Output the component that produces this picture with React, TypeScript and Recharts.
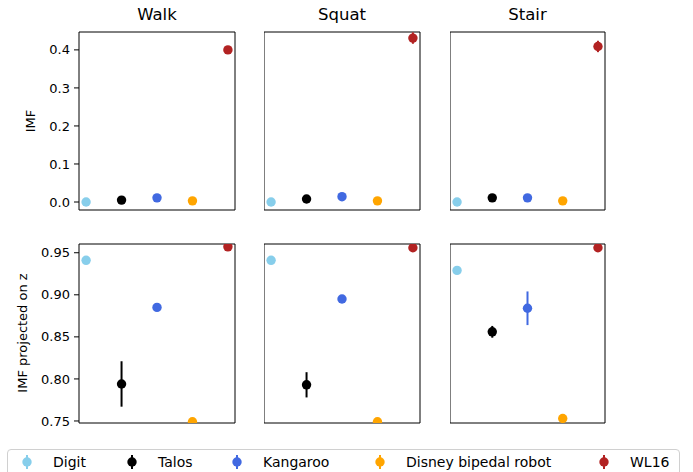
import { ScatterChart, Scatter, XAxis, YAxis, ErrorBar, ReferenceArea } from "recharts";

const robots = ["Digit", "Talos", "Kangaroo", "Disney bipedal robot", "WL16"];
const colors = ["#87CEEB", "#000000", "#4169E1", "#FFA500", "#B22222"];
const activities = ["Walk", "Squat", "Stair"];

// IMF (top row)
const imfWalk = [0.0, 0.005, 0.011, 0.003, 0.4];
const imfWalkErr = [0.001, 0.002, 0.002, 0.001, 0.004];
const imfSquat = [0.0, 0.008, 0.014, 0.003, 0.431];
const imfSquatErr = [0.001, 0.002, 0.002, 0.001, 0.015];
const imfStair = [0.0, 0.011, 0.011, 0.003, 0.409];
const imfStairErr = [0.001, 0.002, 0.002, 0.001, 0.015];

// IMF projected on z (bottom row)
const imfzWalk = [0.941, 0.794, 0.885, 0.749, 0.957];
const imfzWalkErr = [0.001, 0.027, 0.002, 0.001, 0.002];
const imfzSquat = [0.941, 0.793, 0.895, 0.749, 0.956];
const imfzSquatErr = [0.001, 0.015, 0.003, 0.001, 0.002];
const imfzStair = [0.929, 0.856, 0.884, 0.753, 0.956];
const imfzStairErr = [0.001, 0.007, 0.02, 0.001, 0.002];

const imfTicks = [0, 0.1, 0.2, 0.3, 0.4];
const imfzTicks = [0.75, 0.8, 0.85, 0.9, 0.95];

const FONT = "'DejaVu Sans', sans-serif";
const PAD = 12;
const colLeft = [79, 264, 450];
const colWidth = [156, 156, 155];

function Panel({
  left,
  top,
  width,
  height,
  values,
  errs,
  domain,
  ticks,
  digits,
  showAxis,
}: {
  left: number;
  top: number;
  width: number;
  height: number;
  values: number[];
  errs: number[];
  domain: [number, number];
  ticks: number[];
  digits: number;
  showAxis: boolean;
}) {
  const axisW = showAxis ? left : 0;
  return (
    <div style={{ position: "absolute", left: left - axisW, top: top - PAD }}>
      <ScatterChart
        width={axisW + width + PAD}
        height={height + 2 * PAD}
        margin={{ top: PAD, bottom: PAD, left: 0, right: PAD }}
      >
        <XAxis type="number" dataKey="x" domain={[-0.2, 4.2]} hide allowDataOverflow />
        <YAxis
          type="number"
          dataKey="y"
          domain={domain}
          ticks={ticks}
          interval={0}
          hide={!showAxis}
          width={axisW}
          allowDataOverflow
          axisLine={false}
          tickLine={{ stroke: "#000" }}
          tickSize={5}
          tickMargin={4}
          tick={{ fill: "#000", fontSize: 13, fontFamily: FONT }}
          tickFormatter={(v: number) => v.toFixed(digits)}
        />
        {robots.map((r, i) => (
          <Scatter
            key={r}
            name={r}
            data={[{ x: i, y: values[i], err: errs[i] }]}
            isAnimationActive={false}
            shape={(p: any) => <circle cx={p.cx} cy={p.cy} r={4.7} fill={colors[i]} />}
          >
            <ErrorBar dataKey="err" direction="y" width={0} stroke={colors[i]} strokeWidth={2} />
          </Scatter>
        ))}
        <ReferenceArea
          x1={-0.2}
          x2={4.2}
          y1={domain[0]}
          y2={domain[1]}
          fill="none"
          fillOpacity={0}
          stroke="#000"
          strokeWidth={1}
          ifOverflow="visible"
        />
      </ScatterChart>
    </div>
  );
}

const topRow = [
  [imfWalk, imfWalkErr],
  [imfSquat, imfSquatErr],
  [imfStair, imfStairErr],
];
const bottomRow = [
  [imfzWalk, imfzWalkErr],
  [imfzSquat, imfzSquatErr],
  [imfzStair, imfzStairErr],
];

const legendMarkerX = [27, 132, 237, 380, 604];

export default function App() {
  return (
    <div
      style={{
        position: "absolute",
        left: 0,
        top: 0,
        width: 693,
        height: 472,
        background: "#fff",
        fontFamily: FONT,
        color: "#000",
        overflow: "hidden",
      }}
    >
      {activities.map((a, c) => (
        <div
          key={a}
          style={{
            position: "absolute",
            left: colLeft[c],
            width: colWidth[c],
            top: 5,
            textAlign: "center",
            fontSize: 16.5,
            lineHeight: "20px",
          }}
        >
          {a}
        </div>
      ))}

      {topRow.map(([v, e], c) => (
        <Panel
          key={"t" + c}
          left={colLeft[c]}
          top={32}
          width={colWidth[c]}
          height={178}
          values={v}
          errs={e}
          domain={[-0.021, 0.447]}
          ticks={imfTicks}
          digits={1}
          showAxis={c === 0}
        />
      ))}
      {bottomRow.map(([v, e], c) => (
        <Panel
          key={"b" + c}
          left={colLeft[c]}
          top={244}
          width={colWidth[c]}
          height={179}
          values={v}
          errs={e}
          domain={[0.7476, 0.9604]}
          ticks={imfzTicks}
          digits={2}
          showAxis={c === 0}
        />
      ))}

      <div
        style={{
          position: "absolute",
          left: 30,
          top: 121,
          fontSize: 13,
          transform: "translate(-50%, -50%) rotate(-90deg)",
          whiteSpace: "nowrap",
        }}
      >
        IMF
      </div>
      <div
        style={{
          position: "absolute",
          left: 22,
          top: 333,
          fontSize: 13,
          transform: "translate(-50%, -50%) rotate(-90deg)",
          whiteSpace: "nowrap",
        }}
      >
        IMF projected on z
      </div>

      <div
        style={{
          position: "absolute",
          left: 7,
          top: 449,
          width: 673,
          height: 34,
          border: "1px solid #d0d0d0",
          borderRadius: 4,
          boxSizing: "border-box",
        }}
      />
      {robots.map((r, i) => (
        <div key={r}>
          <svg
            width={12}
            height={18}
            style={{ position: "absolute", left: legendMarkerX[i] - 6, top: 453 }}
          >
            <line x1={6} y1={2} x2={6} y2={16} stroke={colors[i]} strokeWidth={2} />
            <circle cx={6} cy={9} r={4.7} fill={colors[i]} />
          </svg>
          <div
            style={{
              position: "absolute",
              left: legendMarkerX[i] + 26,
              top: 453,
              fontSize: 14,
              lineHeight: "18px",
              whiteSpace: "nowrap",
            }}
          >
            {r}
          </div>
        </div>
      ))}
    </div>
  );
}
